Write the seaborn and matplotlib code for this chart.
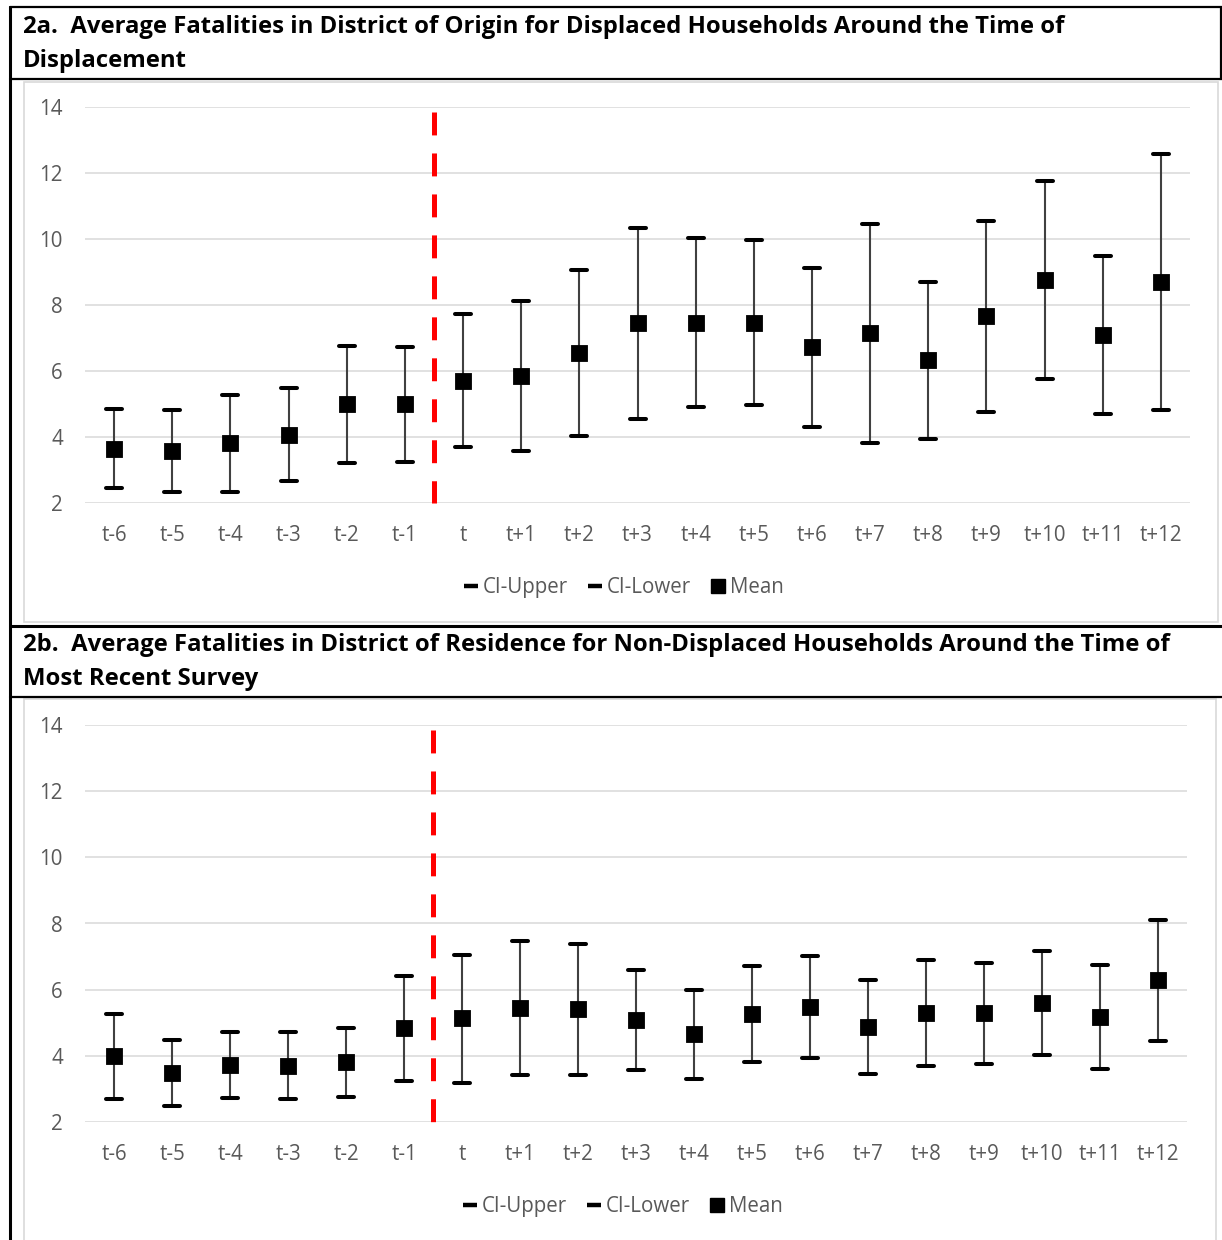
import matplotlib
matplotlib.use("Agg")
import matplotlib.pyplot as plt
from matplotlib.lines import Line2D
from matplotlib.patches import Rectangle
import numpy as np
import pandas as pd
import seaborn as sns

# ---- data -------------------------------------------------------------
periods = ["t-6", "t-5", "t-4", "t-3", "t-2", "t-1", "t",
           "t+1", "t+2", "t+3", "t+4", "t+5", "t+6", "t+7",
           "t+8", "t+9", "t+10", "t+11", "t+12"]

# 2a: displaced households, district of origin
disp_mean = [3.65, 3.58, 3.81, 4.07, 4.99, 4.99, 5.71, 5.85, 6.55, 7.44,
             7.46, 7.46, 6.72, 7.14, 6.32, 7.66, 8.75, 7.09, 8.70]
disp_upper = [4.84, 4.82, 5.27, 5.48, 6.76, 6.74, 7.73, 8.11, 9.06, 10.34,
              10.03, 9.97, 9.11, 10.45, 8.69, 10.55, 11.75, 9.49, 12.58]
disp_lower = [2.46, 2.32, 2.33, 2.67, 3.21, 3.23, 3.70, 3.59, 4.02, 4.56,
              4.90, 4.97, 4.31, 3.82, 3.95, 4.77, 5.75, 4.71, 4.81]

# 2b: non-displaced households, district of residence
nondisp_mean = [3.99, 3.48, 3.72, 3.70, 3.82, 4.83, 5.13, 5.46, 5.41, 5.07,
                4.65, 5.27, 5.48, 4.87, 5.30, 5.28, 5.61, 5.16, 6.29]
nondisp_upper = [5.27, 4.48, 4.71, 4.71, 4.85, 6.42, 7.06, 7.47, 7.38, 6.59,
                 5.99, 6.72, 7.03, 6.28, 6.90, 6.82, 7.18, 6.75, 8.12]
nondisp_lower = [2.71, 2.47, 2.72, 2.69, 2.77, 3.24, 3.19, 3.43, 3.43, 3.57,
                 3.30, 3.82, 3.94, 3.46, 3.70, 3.75, 4.04, 3.59, 4.44]

title_a = ["2a.  Average Fatalities in District of Origin for Displaced Households Around the Time of",
           "Displacement"]
title_b = ["2b.  Average Fatalities in District of Residence for Non-Displaced Households Around the Time of",
           "Most Recent Survey"]
legend_labels = ["CI-Upper", "CI-Lower", "Mean"]
event_position = 5.5  # boundary between t-1 and t

# ---- style ------------------------------------------------------------
sns.set_style("white")
plt.rcParams["font.family"] = ["Open Sans", "DejaVu Sans"]
plt.rcParams["lines.scale_dashes"] = False

GREY_TXT = "#595959"
GRID = "#d9d9d9"
TICK_FS = 14.8
TITLE_FS = 17.2

W, H = 1222, 1240
fig = plt.figure(figsize=(W / 100, H / 100), dpi=100)


def fx(px):
    return px / W


def fy(py):
    return 1 - py / H


# table-like frame around the two panels
frame = dict(color="black", lw=1.6, transform=fig.transFigure)
fig.add_artist(Line2D([fx(10), 1], [fy(7), fy(7)], **frame))
fig.add_artist(Line2D([fx(10), 1], [fy(79), fy(79)], **frame))
fig.add_artist(Line2D([fx(10), 1], [fy(626), fy(626)], color="black", lw=2.2,
                      transform=fig.transFigure))
fig.add_artist(Line2D([fx(10), 1], [fy(697), fy(697)], **frame))
fig.add_artist(Line2D([fx(10), fx(10)], [fy(7), 0], color="black", lw=2.2,
                      transform=fig.transFigure))
fig.add_artist(Line2D([fx(1221), fx(1221)], [fy(7), fy(79)], **frame))

# light grey chart-area boxes
fig.add_artist(Rectangle((fx(24), fy(622)), fx(1218) - fx(24), fy(82) - fy(622),
                         transform=fig.transFigure, fill=False,
                         edgecolor=GRID, lw=1.2))
fig.add_artist(Rectangle((fx(24), fy(1245)), fx(1216) - fx(24), fy(699) - fy(1245),
                         transform=fig.transFigure, fill=False,
                         edgecolor=GRID, lw=1.2))

# panel titles
for lines, y0 in ((title_a, 27), (title_b, 645)):
    fig.text(fx(23), fy(y0), lines[0], fontsize=TITLE_FS, fontweight="bold",
             color="black", va="center", ha="left")
    fig.text(fx(23), fy(y0 + 34), lines[1], fontsize=TITLE_FS, fontweight="bold",
             color="black", va="center", ha="left")


def draw_panel(ax, mean, upper, lower):
    df = pd.DataFrame({"period": periods, "mean": mean,
                       "upper": upper, "lower": lower})

    # high-low lines
    ax.vlines(df["period"], df["lower"], df["upper"], color="#404040",
              lw=1.5, zorder=2)
    # CI caps and means
    sns.scatterplot(data=df, x="period", y="upper", marker="_", s=117,
                    color="black", edgecolor="black", linewidth=2.9,
                    ax=ax, zorder=3, legend=False)
    sns.scatterplot(data=df, x="period", y="lower", marker="_", s=117,
                    color="black", edgecolor="black", linewidth=2.9,
                    ax=ax, zorder=3, legend=False)
    for coll in ax.collections[-2:]:
        coll.set_capstyle("round")
    sns.scatterplot(data=df, x="period", y="mean", marker="s", s=135,
                    color="black", edgecolor="black", linewidth=0.6,
                    ax=ax, zorder=4, legend=False)

    # event marker
    ax.plot([event_position, event_position], [13.85, 2.0], color="#ff0000",
            lw=3.6, linestyle=(0, (16.5, 13.0)), zorder=5, clip_on=False)

    ax.set_xlim(-0.5, len(periods) - 0.5)
    ax.set_ylim(2, 14)
    ax.set_yticks(np.arange(2, 15, 2))
    ax.yaxis.grid(True, color=GRID, lw=1.1)
    ax.xaxis.grid(False)
    ax.set_axisbelow(True)
    for s in ax.spines.values():
        s.set_visible(False)
    ax.tick_params(axis="both", length=0, labelsize=TICK_FS, labelcolor=GREY_TXT)
    ax.tick_params(axis="y", pad=16)
    ax.tick_params(axis="x", pad=16)
    ax.set_xlabel("")
    ax.set_ylabel("")

    handles = [
        Line2D([], [], ls="", marker="_", color="black", markersize=10,
               markeredgewidth=3.2),
        Line2D([], [], ls="", marker="_", color="black", markersize=10,
               markeredgewidth=3.2),
        Line2D([], [], ls="", marker="s", color="black", markersize=10),
    ]
    leg = ax.legend(handles, legend_labels, loc="center",
                    bbox_to_anchor=(0.488, -0.214), ncol=3, frameon=False,
                    fontsize=TICK_FS, handlelength=0.65, handletextpad=0.25,
                    columnspacing=1.0, borderaxespad=0)
    for t in leg.get_texts():
        t.set_color(GREY_TXT)


ax1 = fig.add_axes([fx(85), fy(503), fx(1190) - fx(85), fy(107) - fy(503)])
draw_panel(ax1, disp_mean, disp_upper, disp_lower)

ax2 = fig.add_axes([fx(85), fy(1122), fx(1187) - fx(85), fy(725) - fy(1122)])
draw_panel(ax2, nondisp_mean, nondisp_upper, nondisp_lower)

fig.savefig("out.png", dpi=100)
